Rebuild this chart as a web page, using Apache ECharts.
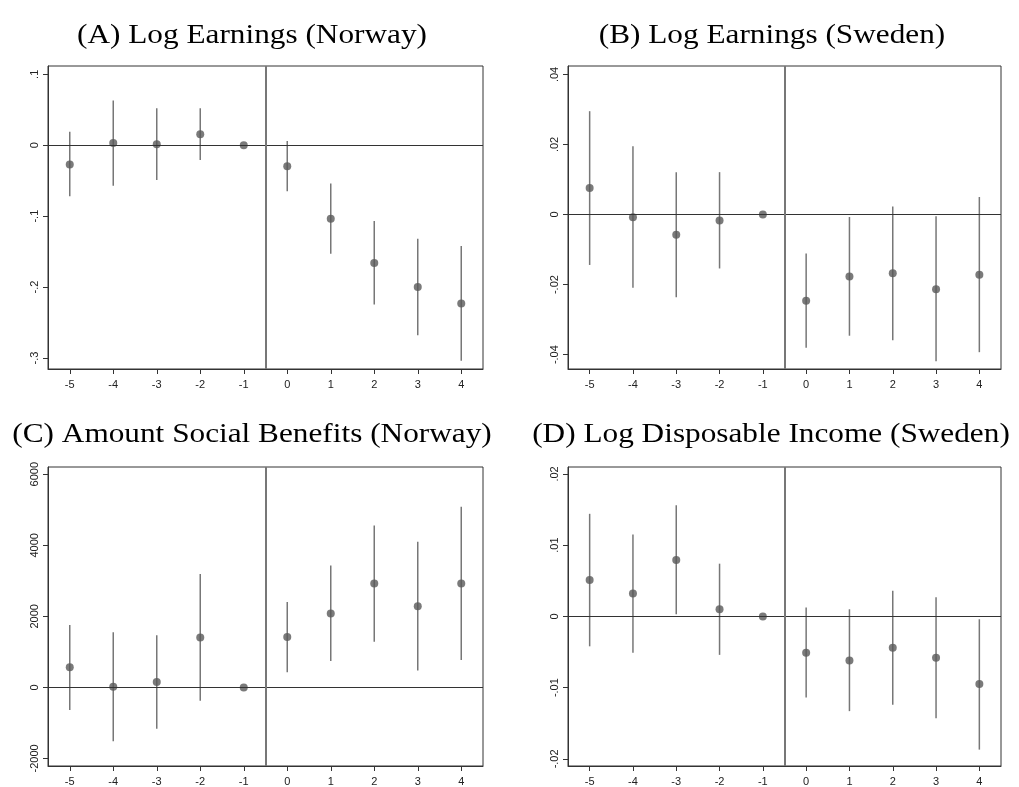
<!DOCTYPE html>
<html><head><meta charset="utf-8">
<script src="https://cdn.jsdelivr.net/npm/echarts@6/dist/echarts.min.js"></script>
<style>html,body{margin:0;padding:0;background:#fff}#c{width:1019px;height:787px}</style>
</head><body><div id="c"></div>
<script>
// x categories (event time)
const years = [-5, -4, -3, -2, -1, 0, 1, 2, 3, 4];

// (A) Log Earnings (Norway)
const aEst = [-0.027, 0.003, 0.0014, 0.0155, 0, -0.0295, -0.1036, -0.166, -0.200, -0.223];
const aLo  = [-0.072, -0.057, -0.049, -0.021, null, -0.065, -0.153, -0.2246, -0.268, -0.304];
const aHi  = [0.019, 0.063, 0.052, 0.052, null, 0.006, -0.054, -0.107, -0.132, -0.142];
const aTicks = [0.1, 0, -0.1, -0.2, -0.3];

// (B) Log Earnings (Sweden)
const bEst = [0.0076, -0.0008, -0.0058, -0.0017, 0, -0.0246, -0.0177, -0.0168, -0.0213, -0.0172];
const bLo  = [-0.0144, -0.0209, -0.0236, -0.0154, null, -0.038, -0.0346, -0.0359, -0.0419, -0.0393];
const bHi  = [0.0295, 0.0195, 0.0121, 0.0121, null, -0.0111, -0.0007, 0.0023, -0.0005, 0.005];
const bTicks = [0.04, 0.02, 0, -0.02, -0.04];

// (C) Amount Social Benefits (Norway)
const cEst = [564, 18, 148, 1406, 0, 1415, 2081, 2922, 2284, 2922];
const cLo  = [-638, -1517, -1165, -379, null, 425, 740, 1286, 472, 768];
const cHi  = [1757, 1554, 1470, 3191, null, 2405, 3431, 4559, 4097, 5087];
const cTicks = [6000, 4000, 2000, 0, -2000];

// (D) Log Disposable Income (Sweden)
const dEst = [0.0051, 0.0032, 0.0079, 0.001, 0, -0.0051, -0.0062, -0.0044, -0.0058, -0.0095];
const dLo  = [-0.0042, -0.0051, 0.0003, -0.0054, null, -0.0114, -0.0133, -0.0124, -0.0143, -0.0187];
const dHi  = [0.0144, 0.0115, 0.0156, 0.0074, null, 0.00125, 0.001, 0.0036, 0.0027, -0.0004];
const dTicks = [0.02, 0.01, 0, -0.01, -0.02];

const titles = ['(A) Log Earnings (Norway)', '(B) Log Earnings (Sweden)',
                '(C) Amount Social Benefits (Norway)', '(D) Log Disposable Income (Sweden)'];

const panels = [
  {est: aEst, lo: aLo, hi: aHi, ticks: aTicks, min: -0.3155, max: 0.1117,
   grid: {left: 48, top: 66, width: 435, height: 303}, title: {x: 252, y: 36}},
  {est: bEst, lo: bLo, hi: bHi, ticks: bTicks, min: -0.0441, max: 0.0424,
   grid: {left: 568, top: 66, width: 433, height: 303}, title: {x: 772, y: 36}},
  {est: cEst, lo: cLo, hi: cHi, ticks: cTicks, min: -2213, max: 6203,
   grid: {left: 48, top: 467, width: 435, height: 303}, title: {x: 252, y: 435}},
  {est: dEst, lo: dLo, hi: dHi, ticks: dTicks, min: -0.0210, max: 0.02097,
   grid: {left: 568, top: 467, width: 433, height: 302}, title: {x: 771, y: 435}}
];

function fmt(v) {
  if (Math.abs(v) < 1e-12) return '0';
  if (Math.abs(v) >= 1) return String(Math.round(v));
  let s = String(parseFloat(v.toPrecision(6)));
  return s.replace('0.', '.');
}

const grids = [], xAxes = [], yAxes = [], series = [], graphics = [];
const axisColor = '#333';
const lblFont = {fontFamily: 'Liberation Sans, Arial, sans-serif', fontSize: 11, color: '#222'};

panels.forEach((p, i) => {
  grids.push(Object.assign({show: true, borderColor: axisColor, borderWidth: 1, backgroundColor: '#fff'}, p.grid));
  xAxes.push({
    type: 'value', gridIndex: i, min: -5.5, max: 4.5,
    axisLine: {show: true, onZero: false, lineStyle: {color: axisColor, width: 1}},
    axisTick: {show: true, length: 5, lineStyle: {color: axisColor}, customValues: years},
    axisLabel: Object.assign({customValues: years, margin: 10, formatter: v => String(v)}, lblFont),
    splitLine: {show: false}
  });
  yAxes.push({
    type: 'value', gridIndex: i, min: p.min, max: p.max,
    axisLine: {show: true, onZero: false, lineStyle: {color: axisColor, width: 1}},
    axisTick: {show: true, length: 5, lineStyle: {color: axisColor}, customValues: p.ticks},
    axisLabel: Object.assign({customValues: p.ticks, rotate: 90, margin: 8, formatter: v => fmt(v)}, lblFont),
    splitLine: {show: false}
  });
  // reference lines
  series.push({
    type: 'line', xAxisIndex: i, yAxisIndex: i, data: [], silent: true,
    markLine: {
      symbol: 'none', silent: true, label: {show: false}, animation: false,
      data: [
        {yAxis: 0, lineStyle: {color: '#333', width: 1.2, type: 'solid'}},
        {xAxis: -0.5, lineStyle: {color: '#777', width: 2, type: 'solid'}}
      ]
    }
  });
  // confidence intervals
  const ci = years.map((x, k) => [x, p.lo[k], p.hi[k]]).filter(d => d[1] !== null);
  series.push({
    type: 'custom', xAxisIndex: i, yAxisIndex: i, data: ci, animation: false,
    renderItem: (params, api) => {
      const a = api.coord([api.value(0), api.value(1)]);
      const b = api.coord([api.value(0), api.value(2)]);
      return {type: 'line', shape: {x1: a[0], y1: a[1], x2: b[0], y2: b[1]},
              style: {stroke: '#777', lineWidth: 1.5}};
    },
    z: 3
  });
  // point estimates
  series.push({
    type: 'scatter', xAxisIndex: i, yAxisIndex: i, animation: false,
    data: years.map((x, k) => [x, p.est[k]]),
    symbol: 'circle', symbolSize: 8, itemStyle: {color: '#595959'}, z: 4
  });
  graphics.push({
    type: 'text', x: p.title.x, y: p.title.y, scaleX: 1.18, scaleY: 1,
    style: {text: titles[i], x: 0, y: 0, align: 'center', verticalAlign: 'middle',
            font: '26.5px "Liberation Serif", "Times New Roman", serif', fill: '#000'}
  });
});

const chart = echarts.init(document.getElementById('c'), null, {renderer: 'canvas'});
chart.setOption({
  animation: false, backgroundColor: '#fff',
  grid: grids, xAxis: xAxes, yAxis: yAxes, series: series,
  graphic: graphics
});
</script></body></html>
